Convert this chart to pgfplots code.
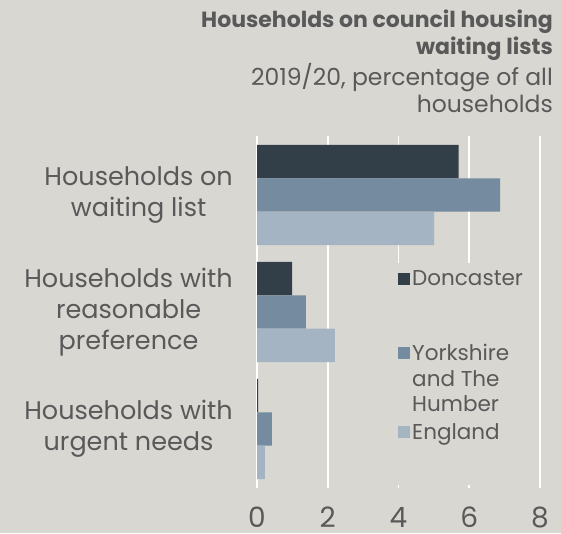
\documentclass[border=0pt]{standalone}
\usepackage{fontspec}
\setmainfont{Poppins}
\usepackage{pgfplots}
\pgfplotsset{compat=1.18}
\definecolor{bg}{RGB}{216,215,210}
\definecolor{donc}{RGB}{51,63,72}
\definecolor{york}{RGB}{117,139,159}
\definecolor{eng}{RGB}{164,180,194}
\definecolor{txt}{RGB}{89,89,89}

\begin{document}
\begin{tikzpicture}[x=1pt,y=1pt]
\useasboundingbox (0,0) rectangle (561,533);
\fill[bg] (0,0) rectangle (561,533);
\begin{axis}[
    at={(257pt,45.5pt)}, anchor=south west,
    scale only axis,
    width=283pt, height=351pt,
    xmin=0, xmax=8,
    ymin=-0.5, ymax=2.5,
    xtick={0,2,4,6,8},
    ytick={0,1,2},
    yticklabels={{Households with\\urgent needs},{Households with\\reasonable\\preference},{Households on\\waiting list}},
    axis line style={draw=none},
    tick style={draw=none},
    xmajorgrids=true,
    grid style={white, line width=1.6pt},
    /pgf/number format/assume math mode=true,
    xticklabel style={font=\fontsize{28}{30}\selectfont, text=txt, inner sep=0pt, anchor=base},
    xticklabel shift=39.5pt,
    yticklabel style={font=\fontsize{25.5}{31}\selectfont, text=txt, inner sep=0pt, align=center},
    yticklabel shift=24pt,
    legend image code/.code={\fill[#1] (0pt,-3pt) rectangle (12pt,-15pt);},
    legend style={
        at={(axis cs:3.93,1.419)}, anchor=north west,
        draw=none, fill=bg,
        inner xsep=2pt, inner ysep=7pt,
        row sep=11pt, column sep=2pt,
        cells={anchor=north west},
        nodes={inner sep=0pt, text depth=, align=left, text=txt,
               font=\fontsize{21.5}{25.5}\selectfont},
    },
]
\addplot[xbar, bar shift=0pt, bar width=0.2855, fill=donc, draw=none]
    coordinates {(5.70,2.2855) (0.99,1.2855) (0.03,0.2855)};
\addlegendentry{Doncaster\rule[-48pt]{0pt}{48pt}}
\addplot[xbar, bar shift=0pt, bar width=0.2855, fill=york, draw=none]
    coordinates {(6.87,2) (1.38,1) (0.42,0)};
\addlegendentry{Yorkshire\\and The\\Humber}
\addplot[xbar, bar shift=0pt, bar width=0.2855, fill=eng, draw=none]
    coordinates {(5.01,1.7145) (2.20,0.7145) (0.22,-0.2855)};
\addlegendentry{England\rule[-39pt]{0pt}{39pt}}
\end{axis}
\node[anchor=base east, inner sep=0pt, text=txt, font=\fontsize{22}{27}\selectfont\bfseries] at (553,505) {Households on council housing};
\node[anchor=base east, inner sep=0pt, text=txt, font=\fontsize{22}{27}\selectfont\bfseries] at (553,478) {waiting lists};
\node[anchor=base east, inner sep=0pt, text=txt, font=\fontsize{23.5}{27}\selectfont] at (553,447) {2019/20, percentage of all};
\node[anchor=base east, inner sep=0pt, text=txt, font=\fontsize{23.5}{27}\selectfont] at (553,420) {households};
\end{tikzpicture}
\end{document}
